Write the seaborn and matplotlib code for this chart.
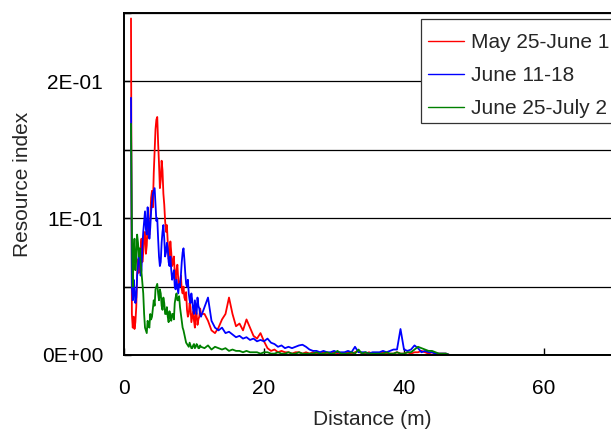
import matplotlib
matplotlib.use("Agg")
import matplotlib.pyplot as plt
import matplotlib.patches as mpatches
import seaborn as sns
import pandas as pd
from matplotlib.ticker import MultipleLocator

# ---- data ----
dist_near = [1.0, 1.25, 1.5, 1.75, 2.0, 2.25, 2.5, 2.75, 3.0, 3.25,
             3.5, 3.75, 4.0, 4.25, 4.5, 4.75, 5.0, 5.25, 5.5, 5.75,
             6.0, 6.25, 6.5, 6.75, 7.0, 7.25, 7.5, 7.75, 8.0, 8.25,
             8.5, 8.75, 9.0, 9.25, 9.5, 9.75, 10.0, 10.25, 10.5, 10.75,
             11.0]
dist_mid = [1.125, 1.375, 1.625, 1.875, 2.125, 2.375, 2.625, 2.875, 3.125, 3.375,
            3.625, 3.875, 4.125, 4.375, 4.625, 4.875, 5.125, 5.375, 5.625, 5.875,
            6.125, 6.375, 6.625, 6.875, 7.125, 7.375, 7.625, 7.875, 8.125, 8.375,
            8.625, 8.875, 9.125, 9.375, 9.625, 9.875, 10.125, 10.375, 10.625, 10.875]
dist_far = [11.5, 12.0, 12.5, 13.0, 13.5, 14.0, 14.5, 15.0, 15.5, 16.0,
            16.5, 17.0, 17.5, 18.0, 18.5, 19.0, 19.5, 20.0, 20.5, 21.0,
            21.5, 22.0, 22.5, 23.0, 23.5, 24.0, 24.5, 25.0, 25.5, 26.0,
            26.5, 27.0, 27.5, 28.0, 28.5, 29.0, 29.5, 30.0, 30.5, 31.0,
            31.5, 32.0, 32.5, 33.0, 33.5, 34.0, 34.5, 35.0, 35.5, 36.0,
            36.5, 37.0, 37.5, 38.0, 38.5, 39.0, 39.5, 40.0, 40.5, 41.0,
            41.5, 42.0, 42.5, 43.0, 43.5, 44.0, 44.5, 45.0, 45.5, 46.0,
            46.5, 47.0]
dist_tail = [48.0, 75.0]

red_near = [0.246, 0.020, 0.019, 0.035, 0.070, 0.065, 0.085, 0.075, 0.090, 0.080,
            0.092, 0.100, 0.120, 0.133, 0.165, 0.174, 0.140, 0.128, 0.135, 0.110,
            0.090, 0.082, 0.072, 0.075, 0.068, 0.060, 0.062, 0.055, 0.052, 0.048,
            0.050, 0.040, 0.033, 0.030, 0.035, 0.028, 0.025, 0.033, 0.022, 0.028,
            0.030]
red_mid = [0.030, 0.028, 0.024, 0.058, 0.060, 0.078, 0.068, 0.088, 0.074, 0.095,
           0.088, 0.115, 0.108, 0.150, 0.172, 0.155, 0.122, 0.142, 0.118, 0.098,
           0.095, 0.070, 0.083, 0.065, 0.072, 0.055, 0.066, 0.050, 0.058, 0.045,
           0.042, 0.046, 0.028, 0.038, 0.024, 0.032, 0.020, 0.030, 0.026, 0.034]
red_far = [0.030, 0.025, 0.018, 0.016, 0.020, 0.026, 0.030, 0.042, 0.030, 0.021,
           0.023, 0.018, 0.026, 0.020, 0.014, 0.012, 0.016, 0.010, 0.005, 0.003,
           0.004, 0.002, 0.003, 0.002, 0.002, 0.001, 0.002, 0.002, 0.001, 0.002,
           0.001, 0.002, 0.001, 0.001, 0.002, 0.001, 0.001, 0.002, 0.001, 0.001,
           0.001, 0.002, 0.001, 0.002, 0.003, 0.001, 0.001, 0.002, 0.001, 0.001,
           0.001, 0.002, 0.001, 0.001, 0.001, 0.002, 0.001, 0.001, 0.002, 0.001,
           0.002, 0.002, 0.003, 0.002, 0.001, 0.002, 0.001, 0.001, 0.001, 0.001,
           0.000, 0.000]

blue_near = [0.188, 0.040, 0.048, 0.042, 0.065, 0.072, 0.062, 0.090, 0.105, 0.088,
             0.100, 0.093, 0.112, 0.120, 0.110, 0.100, 0.072, 0.068, 0.090, 0.085,
             0.075, 0.078, 0.065, 0.062, 0.058, 0.050, 0.055, 0.045, 0.050, 0.068,
             0.078, 0.060, 0.050, 0.045, 0.038, 0.040, 0.030, 0.035, 0.042, 0.034,
             0.028]
blue_mid = [0.050, 0.055, 0.038, 0.058, 0.075, 0.058, 0.080, 0.098, 0.092, 0.108,
            0.085, 0.105, 0.118, 0.122, 0.098, 0.085, 0.065, 0.082, 0.095, 0.072,
            0.082, 0.068, 0.072, 0.055, 0.062, 0.048, 0.050, 0.052, 0.058, 0.075,
            0.070, 0.052, 0.055, 0.040, 0.045, 0.033, 0.040, 0.030, 0.036, 0.030]
blue_far = [0.035, 0.042, 0.025, 0.020, 0.018, 0.020, 0.016, 0.017, 0.015, 0.013,
            0.014, 0.012, 0.013, 0.011, 0.012, 0.010, 0.011, 0.010, 0.012, 0.009,
            0.008, 0.006, 0.007, 0.005, 0.006, 0.005, 0.006, 0.007, 0.0075, 0.006,
            0.004, 0.003, 0.003, 0.002, 0.003, 0.002, 0.002, 0.003, 0.002, 0.002,
            0.002, 0.003, 0.002, 0.006, 0.002, 0.002, 0.002, 0.001, 0.002, 0.002,
            0.002, 0.003, 0.002, 0.003, 0.004, 0.004, 0.019, 0.004, 0.003, 0.004,
            0.007, 0.005, 0.002, 0.003, 0.002, 0.002, 0.001, 0.001, 0.001, 0.001,
            0.000, 0.000]

green_near = [0.169, 0.050, 0.085, 0.070, 0.082, 0.078, 0.060, 0.045, 0.020, 0.016,
              0.022, 0.030, 0.028, 0.040, 0.048, 0.052, 0.040, 0.045, 0.033, 0.038,
              0.030, 0.028, 0.032, 0.025, 0.030, 0.038, 0.045, 0.040, 0.035, 0.025,
              0.018, 0.012, 0.008, 0.006, 0.007, 0.005, 0.008, 0.006, 0.007, 0.005,
              0.006]
green_mid = [0.090, 0.075, 0.062, 0.088, 0.072, 0.068, 0.052, 0.030, 0.018, 0.025,
             0.020, 0.026, 0.034, 0.036, 0.050, 0.045, 0.048, 0.036, 0.042, 0.030,
             0.035, 0.024, 0.028, 0.030, 0.026, 0.042, 0.040, 0.043, 0.030, 0.020,
             0.015, 0.009, 0.007, 0.009, 0.005, 0.007, 0.005, 0.008, 0.005, 0.007]
green_far = [0.005, 0.007, 0.004, 0.006, 0.005, 0.004, 0.005, 0.003, 0.004, 0.003,
             0.003, 0.002, 0.003, 0.002, 0.002, 0.002, 0.001, 0.002, 0.002, 0.001,
             0.001, 0.002, 0.001, 0.001, 0.002, 0.001, 0.001, 0.002, 0.001, 0.001,
             0.001, 0.001, 0.002, 0.001, 0.001, 0.002, 0.001, 0.001, 0.003, 0.001,
             0.001, 0.001, 0.002, 0.001, 0.004, 0.001, 0.002, 0.001, 0.001, 0.001,
             0.001, 0.001, 0.002, 0.001, 0.001, 0.002, 0.001, 0.001, 0.002, 0.002,
             0.004, 0.006, 0.005, 0.004, 0.003, 0.003, 0.002, 0.001, 0.001, 0.001,
             0.000, 0.000]
tail_values = [0.0, 0.0]

series_names = ["May 25-June 1", "June 11-18", "June 25-July 2"]
series_colors = ["#FF0000", "#0000FF", "#008000"]
y_tick_labels = ["0E+00", "1E-01", "2E-01"]
x_ticks = [0, 20, 40, 60]

# ---- build long-form table ----
distance = dist_near + dist_mid + dist_far + dist_tail
series_values = [red_near + red_mid + red_far + tail_values,
                 blue_near + blue_mid + blue_far + tail_values,
                 green_near + green_mid + green_far + tail_values]
frames = []
for name, vals in zip(series_names, series_values):
    frames.append(pd.DataFrame({"Distance": distance, "Index": vals, "Period": name}))
df = pd.concat(frames, ignore_index=True)

# ---- plot ----
sns.set_style("white")
plt.rcParams["font.family"] = ["Liberation Sans", "DejaVu Sans"]
FS = 15
W, H = 611, 430

fig = plt.figure(figsize=(6.11, 4.30), dpi=100)
ax = fig.add_axes([124 / W, 75 / H, 497 / W, 342 / H])

sns.lineplot(data=df, x="Distance", y="Index", hue="Period",
             palette=dict(zip(series_names, series_colors)),
             hue_order=series_names, estimator=None, sort=True,
             linewidth=1.3, ax=ax, legend=True)

ax.set_xlim(0, 71)
ax.set_ylim(0, 0.25)
ax.set_xticks(x_ticks)
ax.set_yticks([0.0, 0.1, 0.2])
ax.set_yticklabels(y_tick_labels)
ax.yaxis.set_minor_locator(MultipleLocator(0.05))
ax.grid(True, which="both", axis="y", color="black", linewidth=0.9)
ax.grid(False, axis="x")
ax.set_axisbelow(True)

ax.tick_params(axis="both", which="both", direction="in", length=5, width=1,
               color="black", labelsize=FS, labelcolor="black")
ax.tick_params(axis="x", pad=17)
ax.tick_params(axis="y", pad=15)
ax.xaxis.set_ticks_position("bottom")
ax.yaxis.set_ticks_position("left")

for side in ["left", "bottom", "top", "right"]:
    ax.spines[side].set_color("black")
    ax.spines[side].set_linewidth(1.4)

ax.set_xlabel("Distance (m)", fontsize=FS, labelpad=9)
ax.set_ylabel("Resource index", fontsize=FS, labelpad=7)

# legend: white box behind, entries placed on top
handles, labels = ax.get_legend_handles_labels()
ax.get_legend().remove()
box = mpatches.Rectangle((421 / W, 1 - 123 / H), 260 / W, 104 / H,
                         transform=fig.transFigure, facecolor="white",
                         edgecolor="#333333", linewidth=0.9, zorder=4)
fig.add_artist(box)
leg = fig.legend(handles, labels, loc="upper left",
                 bbox_to_anchor=(428 / W, 1 - 33 / H),
                 bbox_transform=fig.transFigure, borderaxespad=0,
                 frameon=False, fontsize=FS, handlelength=1.75,
                 handletextpad=0.3, labelspacing=0.68, borderpad=0)
leg.set_zorder(5)
for line in leg.get_lines():
    line.set_linewidth(1.0)

fig.savefig("out.png", dpi=100)
